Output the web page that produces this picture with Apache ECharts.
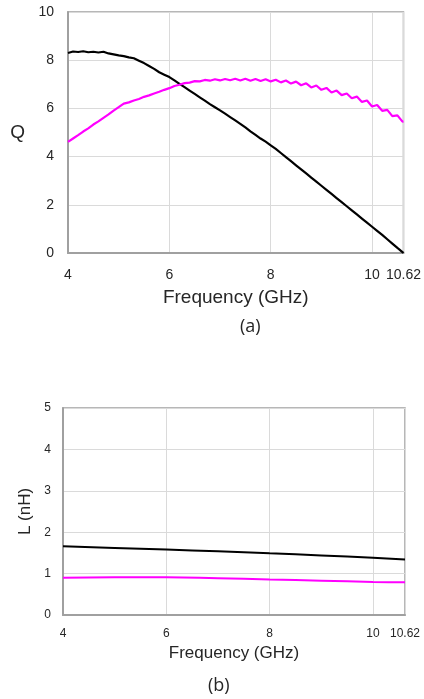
<!DOCTYPE html>
<html>
<head>
<meta charset="utf-8">
<script src="https://cdn.jsdelivr.net/npm/echarts@6/dist/echarts.min.js"></script>
<style>
html,body{margin:0;padding:0;background:#fff;}
#chart{width:424px;height:699px;}
</style>
</head>
<body>
<div id="chart"></div>
<script>
// ---- Data: chart (a) Q vs frequency ----
const freqQ = [4.0,4.1,4.2,4.3,4.4,4.5,4.6,4.7,4.8,4.9,5.0,5.1,5.2,5.3,5.4,5.5,5.6,5.7,5.8,5.9,
  6.0,6.1,6.2,6.3,6.4,6.5,6.6,6.7,6.8,6.9,7.0,7.1,7.2,7.3,7.4,7.5,7.6,7.7,7.8,7.9,
  8.0,8.1,8.2,8.3,8.4,8.5,8.6,8.7,8.8,8.9,9.0,9.1,9.2,9.3,9.4,9.5,9.6,9.7,9.8,9.9,
  10.0,10.1,10.2,10.3,10.4,10.5,10.6,10.62];
const qBlack = [8.30,8.36,8.34,8.37,8.33,8.35,8.32,8.35,8.28,8.24,8.20,8.17,8.12,8.08,7.98,7.88,7.76,7.64,7.50,7.40,
  7.30,7.16,7.02,6.88,6.74,6.60,6.46,6.32,6.18,6.05,5.92,5.78,5.64,5.50,5.36,5.21,5.05,4.90,4.75,4.62,
  4.47,4.32,4.15,3.98,3.81,3.64,3.47,3.30,3.13,2.96,2.79,2.62,2.45,2.28,2.11,1.94,1.77,1.60,1.43,1.26,
  1.09,0.92,0.75,0.57,0.39,0.21,0.04,0.00];
const qMagenta = [4.61,4.75,4.89,5.04,5.17,5.33,5.46,5.61,5.75,5.91,6.05,6.20,6.25,6.33,6.39,6.48,6.54,6.62,6.69,6.77,
  6.84,6.93,6.98,7.05,7.07,7.13,7.12,7.18,7.15,7.21,7.16,7.22,7.17,7.23,7.16,7.23,7.15,7.22,7.14,7.21,
  7.12,7.19,7.08,7.16,7.03,7.11,6.96,7.04,6.87,6.95,6.77,6.85,6.66,6.74,6.55,6.62,6.42,6.49,6.27,6.33,
  6.08,6.14,5.90,5.94,5.68,5.71,5.45,5.46];

// ---- Data: chart (b) L vs frequency ----
const freqL = [4, 5, 6, 7, 8, 9, 10, 10.62];
const lBlack = [1.66, 1.62, 1.58, 1.54, 1.49, 1.44, 1.38, 1.34];
const lMagenta = [0.90, 0.91, 0.91, 0.89, 0.86, 0.83, 0.80, 0.79];

// ---- Axis ticks ----
const xMin = 4, xMax = 10.62, xInterval = 2;
const qMax = 10, qInterval = 2;
const lMax = 5, lInterval = 1;

const pairs = (xs, ys) => xs.map((x, i) => [x, ys[i]]);

const font = 'Liberation Sans, Arial, sans-serif';
const borderCol = '#a0a0a0';
const gridCol = '#dadada';
const txtCol = '#262626';

const chart = echarts.init(document.getElementById('chart'), null, {renderer: 'canvas'});
chart.setOption({
  animation: false,
  backgroundColor: '#fff',
  grid: [
    {left: 68, top: 12, width: 338, height: 241, show: true, borderColor: borderCol, borderWidth: 1.5, backgroundColor: 'transparent'},
    {left: 63, top: 408, width: 342, height: 207, show: true, borderColor: borderCol, borderWidth: 1.5, backgroundColor: 'transparent'}
  ],
  xAxis: [
    {gridIndex: 0, type: 'value', min: xMin, max: xMax, interval: xInterval,
     name: 'Frequency (GHz)', nameLocation: 'middle', nameGap: 35,
     nameTextStyle: {fontFamily: font, fontSize: 19, color: txtCol},
     axisLine: {show: true, lineStyle: {color: borderCol, width: 2}},
     axisTick: {show: false},
     axisLabel: {fontFamily: font, fontSize: 14, color: txtCol, margin: 15, showMaxLabel: true, showMinLabel: true, hideOverlap: false},
     splitLine: {show: true, lineStyle: {color: gridCol, width: 1}}},
    {gridIndex: 1, type: 'value', min: xMin, max: xMax, interval: xInterval,
     name: 'Frequency (GHz)', nameLocation: 'middle', nameGap: 30,
     nameTextStyle: {fontFamily: font, fontSize: 17, color: txtCol},
     axisLine: {show: true, lineStyle: {color: borderCol, width: 2}},
     axisTick: {show: false},
     axisLabel: {fontFamily: font, fontSize: 12, color: txtCol, margin: 13, showMaxLabel: true, showMinLabel: true, hideOverlap: false},
     splitLine: {show: true, lineStyle: {color: gridCol, width: 1}}}
  ],
  yAxis: [
    {gridIndex: 0, type: 'value', min: 0, max: qMax, interval: qInterval,
     name: 'Q', nameLocation: 'middle', nameRotate: 0, nameGap: 43,
     nameTextStyle: {fontFamily: font, fontSize: 19, color: txtCol},
     axisLine: {show: true, lineStyle: {color: borderCol, width: 2}},
     axisTick: {show: false},
     axisLabel: {fontFamily: font, fontSize: 14, color: txtCol, margin: 14},
     splitLine: {show: true, lineStyle: {color: gridCol, width: 1}}},
    {gridIndex: 1, type: 'value', min: 0, max: lMax, interval: lInterval,
     name: 'L (nH)', nameLocation: 'middle', nameGap: 28,
     nameTextStyle: {fontFamily: font, fontSize: 17, color: txtCol},
     axisLine: {show: true, lineStyle: {color: borderCol, width: 2}},
     axisTick: {show: false},
     axisLabel: {fontFamily: font, fontSize: 12, color: txtCol, margin: 12},
     splitLine: {show: true, lineStyle: {color: gridCol, width: 1}}}
  ],
  series: [
    {type: 'line', xAxisIndex: 0, yAxisIndex: 0, data: pairs(freqQ, qBlack), showSymbol: false,
     lineStyle: {color: '#000', width: 2.2}, itemStyle: {color: '#000'}},
    {type: 'line', xAxisIndex: 0, yAxisIndex: 0, data: pairs(freqQ, qMagenta), showSymbol: false,
     lineStyle: {color: '#ff00ff', width: 2.2}, itemStyle: {color: '#ff00ff'}},
    {type: 'line', xAxisIndex: 1, yAxisIndex: 1, data: pairs(freqL, lBlack), showSymbol: false, smooth: true,
     lineStyle: {color: '#000', width: 2}, itemStyle: {color: '#000'}},
    {type: 'line', xAxisIndex: 1, yAxisIndex: 1, data: pairs(freqL, lMagenta), showSymbol: false, smooth: true,
     lineStyle: {color: '#ff00ff', width: 2}, itemStyle: {color: '#ff00ff'}}
  ],
  graphic: [
    {type: 'text', left: 240, top: 318, style: {text: '(a)', font: '18px "Open Sans", sans-serif', fill: txtCol}},
    {type: 'text', left: 208, top: 677, style: {text: '(b)', font: '18px "Open Sans", sans-serif', fill: txtCol}}
  ]
});
</script>
</body>
</html>
